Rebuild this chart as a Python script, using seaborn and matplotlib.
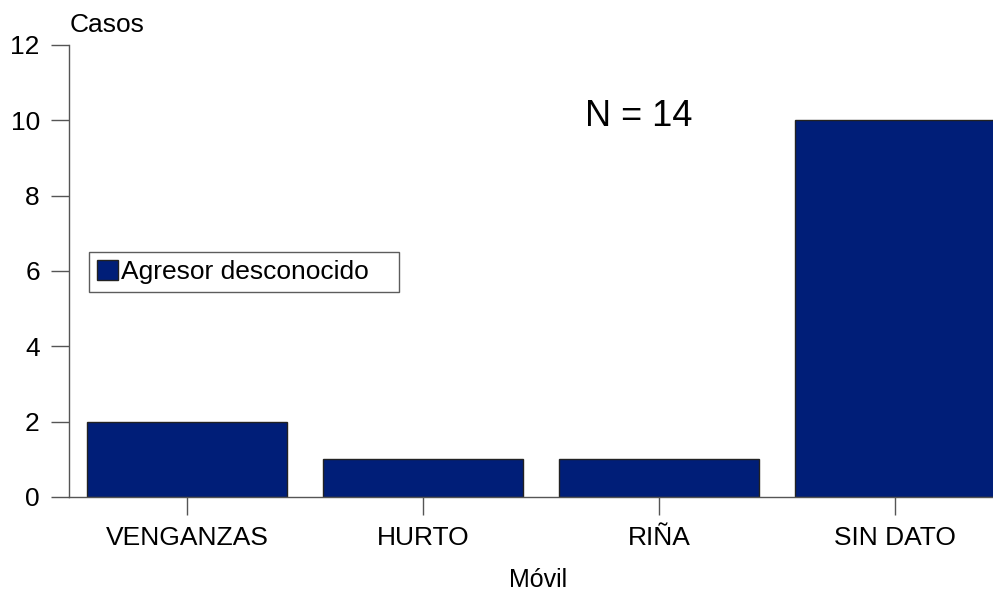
import pandas as pd
import matplotlib
matplotlib.use('Agg')
import matplotlib.pyplot as plt
import seaborn as sb

# data
categorias = ['VENGANZAS', 'HURTO', 'RIÑA', 'SIN DATO']
casos = [2, 1, 1, 10]
serie = 'Agresor desconocido'
y_ticks = [0, 2, 4, 6, 8, 10, 12]

df = pd.DataFrame({'Móvil': categorias, 'Casos': casos, 'Serie': serie})

sb.set_style('white')
plt.rcParams['font.family'] = ['Liberation Sans', 'DejaVu Sans']
plt.rcParams['text.color'] = 'black'
plt.rcParams['xtick.color'] = 'black'
plt.rcParams['ytick.color'] = 'black'

fig = plt.figure(figsize=(9.93, 5.98), dpi=100)
# axes runs past the right edge like the original
ax = fig.add_axes([69/993, 101/598, 944/993, 452/598])

sb.barplot(data=df, x='Móvil', y='Casos', hue='Serie', palette=['#001E78'],
           saturation=1, width=0.85, edgecolor='#222222', linewidth=1, ax=ax)

ax.set_ylim(0, 12)
ax.set_xlim(-0.5, 3.5)
ax.set_yticks(y_ticks)
ax.tick_params(axis='both', labelsize=19, length=13, width=1, color='#555555',
               labelcolor='black', direction='out', pad=8, left=True, bottom=True)
ax.set_xlabel('')
ax.set_ylabel('')
for s in ['top', 'right']:
    ax.spines[s].set_visible(False)
for s in ['left', 'bottom']:
    ax.spines[s].set_color('#555555')
    ax.spines[s].set_linewidth(1)

fig.text(70/993, 1 - 25/598, 'Casos', fontsize=19, va='center', ha='left')
fig.text(538/993, 1 - 580/598, 'Móvil', fontsize=18, va='center', ha='center')
fig.text(639/993, 1 - 117/598, 'N = 14', fontsize=26, va='center', ha='center')

# legend box stretched to the width seen in the reference
leg = ax.legend(loc='upper left',
                bbox_to_anchor=(89/993, 1 - 291/598, 310/993, 39/598),
                bbox_transform=fig.transFigure, mode='expand', fontsize=19,
                frameon=True, fancybox=False, edgecolor='#333333',
                handlelength=0.8, handleheight=0.8, handletextpad=0.1,
                borderpad=0.3, borderaxespad=0)
leg.get_frame().set_linewidth(1)

plt.savefig('out.png', dpi=100)
